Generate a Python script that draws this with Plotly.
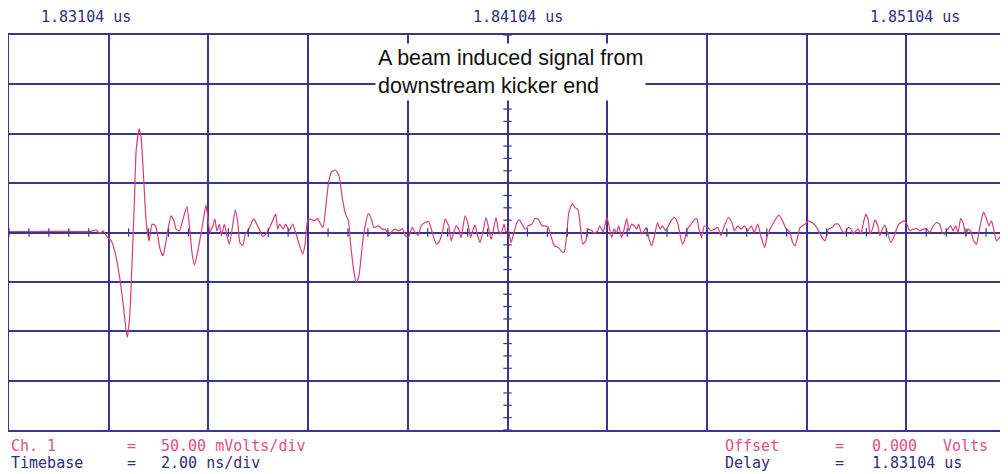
import numpy as np
import plotly.graph_objects as go

# ---- data (time in ns after delay, voltage in mV) ----
time_ns = [0.0, 0.5, 1.0, 1.3, 1.62, 1.75, 1.82, 1.89, 1.95, 2.05, 2.12, 2.22, 2.29, 2.37, 2.42, 2.47, 2.52, 2.55,
           2.61, 2.65, 2.70, 2.75, 2.81, 2.87, 2.94, 2.99, 3.03, 3.09, 3.14, 3.19, 3.25, 3.31, 3.35, 3.42, 3.49,
           3.57, 3.62, 3.67, 3.72, 3.77, 3.82, 3.89, 3.95, 3.99, 4.03, 4.09, 4.13, 4.17, 4.22, 4.26, 4.32, 4.37,
           4.42, 4.47, 4.54, 4.59, 4.63, 4.69, 4.74, 4.79, 4.84, 4.91, 4.97, 5.02, 5.09, 5.15, 5.23, 5.30, 5.35,
           5.39, 5.43, 5.50, 5.55, 5.62, 5.69, 5.75, 5.82, 5.89, 5.94, 5.99, 6.05, 6.12, 6.19, 6.25, 6.30, 6.35,
           6.41, 6.47, 6.55, 6.62, 6.69, 6.75, 6.81, 6.85, 6.92, 6.97, 7.02, 7.09, 7.12, 7.21, 7.27, 7.32, 7.41,
           7.49, 7.55, 7.62, 7.69, 7.75, 7.82, 7.89, 7.95, 8.01, 8.09, 8.15, 8.21, 8.27, 8.35, 8.42, 8.49, 8.57,
           8.63, 8.70, 8.75, 8.82, 8.87, 8.92, 8.97, 9.02, 9.07, 9.11, 9.15, 9.21, 9.26, 9.31, 9.35, 9.40, 9.45,
           9.51, 9.57, 9.62, 9.67, 9.72, 9.77, 9.82, 9.87, 9.93, 9.97, 10.02, 10.07, 10.13, 10.19, 10.24, 10.29,
           10.35, 10.42, 10.49, 10.55, 10.62, 10.69, 10.75, 10.82, 10.87, 10.94, 11.02, 11.09, 11.14, 11.19,
           11.23, 11.30, 11.35, 11.41, 11.45, 11.51, 11.57, 11.62, 11.69, 11.74, 11.81, 11.85, 11.92, 11.99,
           12.03, 12.09, 12.14, 12.19, 12.23, 12.29, 12.34, 12.39, 12.44, 12.49, 12.54, 12.59, 12.63, 12.69,
           12.74, 12.79, 12.84, 12.89, 12.94, 13.01, 13.06, 13.11, 13.17, 13.23, 13.28, 13.35, 13.41, 13.46,
           13.51, 13.55, 13.60, 13.66, 13.73, 13.80, 13.84, 13.89, 13.95, 14.02, 14.08, 14.15, 14.22, 14.28,
           14.35, 14.43, 14.50, 14.55, 14.62, 14.69, 14.75, 14.82, 14.89, 14.95, 15.02, 15.09, 15.16, 15.21,
           15.27, 15.34, 15.44, 15.52, 15.59, 15.65, 15.72, 15.77, 15.81, 15.87, 15.97, 16.04, 16.11, 16.17,
           16.24, 16.31, 16.37, 16.44, 16.51, 16.57, 16.64, 16.71, 16.77, 16.84, 16.89, 16.94, 16.99, 17.04,
           17.09, 17.14, 17.19, 17.24, 17.27, 17.32, 17.37, 17.43, 17.47, 17.52, 17.57, 17.63, 17.69, 17.76,
           17.83, 17.89, 17.96, 18.01, 18.07, 18.14, 18.21, 18.27, 18.34, 18.41, 18.47, 18.54, 18.61, 18.67,
           18.72, 18.77, 18.83, 18.89, 18.94, 18.99, 19.04, 19.09, 19.14, 19.19, 19.24, 19.29, 19.35, 19.41,
           19.45, 19.51, 19.55, 19.61, 19.66, 19.71, 19.76, 19.81, 19.87, 19.94, 20.0]

volt_mV = [1.0, 1.0, 1.2, 1.0, 1.0, 2.4, -1.0, 1.7, -3.3, -8.4, -18.5, -45.5, -72.3, -106.1, -85.9, -28.6, 38.8, 82.5,
           104.6, 96.1, 55.7, 11.8, -8.4, 8.5, 6.8, -5.1, -16.8, -23.5, -11.7, 3.4, 16.9, 11.8, 3.4, 1.7, 13.5,
           26.3, 6.8, -20.2, -32.9, -23.5, -10.1, 10.1, 27.7, 15.2, 0.0, 6.8, 13.5, 1.7, 8.5, -3.3, 8.5, -3.3,
           -11.7, 1.7, 22.9, 10.1, -10.1, -13.4, -1.6, 1.7, 6.8, 14.1, 8.5, 3.4, -4.0, -1.6, 5.1, 13.5, 18.6,
           3.4, 8.5, 3.4, 8.5, 1.7, 8.5, 0.0, -11.7, -21.8, -11.7, 11.8, 13.5, 11.8, 14.1, 8.5, 5.1, 23.6,
           50.5, 61.3, 63.3, 57.3, 33.7, 18.6, 11.8, -10.1, -40.4, -50.5, -43.7, -11.7, 0.0, 19.2, 13.5, 5.1, 6.8,
           3.4, 3.4, -4.0, 1.7, 3.4, 1.7, 4.0, -3.3, -5.1, 5.1, 0.0, -3.3, 6.8, 10.1, 10.8, 0.0, -11.7,
           -9.4, 1.7, 13.5, 6.8, -8.4, 0.0, 6.8, 3.4, -5.1, 6.8, 16.9, 8.5, -5.1, 3.4, 7.5, -3.3, -10.1,
           1.7, 15.2, 5.1, -6.7, 3.4, 15.2, 1.7, -1.6, 8.5, 0.0, 1.7, -10.1, 0.0, 10.1, 12.8, 8.5,
           3.4, 6.8, 8.5, 14.1, 13.5, 6.8, 6.8, 5.1, -3.3, -13.4, -15.2, -19.5, -19.5, 0.0,
           20.2, 29.3, 25.3, 23.6, 11.8, -11.7, -8.4, 3.4, 1.7, -0.6, 1.7, 6.8, 0.7, 15.2,
           8.5, -5.1, 3.4, 0.0, 6.8, -5.1, 3.4, 14.1, 1.7, 8.5, 6.8, 3.4, 8.5, -1.6,
           1.7, 5.1, -6.7, -13.4, -5.1, 10.1, 3.4, 6.8, 1.7, 6.8, 11.8, 15.2, 10.1, -1.6,
           -11.7, -8.4, 3.4, 6.8, 11.8, 14.1, 3.4, -5.1, 6.8, 5.1, 1.7, 3.4, 5.1, -3.3,
           6.8, 15.2, 10.1, 1.7, 6.8, 3.4, 6.8, 1.7, 6.8, 0.0, 8.5, -5.1, -15.2, -3.3,
           3.4, 10.1, 17.6, 11.8, 3.4, 1.7, -10.1, -13.4, -6.7, 5.1, 8.5, 11.8, 10.1, 7.5,
           1.7, -5.1, -8.4, 3.4, 5.1, 8.5, 8.5, 1.7, 0.0, 5.1, 3.4, -1.6, 1.7, 3.4,
           -1.6, 10.1, 18.6, 11.8, -1.6, 3.4, 12.8, 6.8, -3.3, 3.4, 7.5, -1.6, -10.1, -3.3,
           6.8, 10.1, 11.8, 8.5, 1.7, 3.4, 4.0, 1.7, 3.4, 3.4, 0.0, 6.8, 10.1, 8.5,
           0.0, -1.6, 3.4, 6.8, 1.7, 6.8, 0.0, 14.1, 10.1, -3.3, 3.4, 1.7, -8.4, -11.7,
           -1.6, 13.5, 20.9, 13.5, 6.8, 11.8, 1.7, -8.4, -5.1, 1.7, 1.7]

delay_us = 1.83104
ns_per_div = 2.0
mv_per_div = 50.0
n_xdiv = 10
n_ydiv = 8

# ---- styles ----
GRID = "#3a3690"
TRACE = "#d83c80"
PINK = "#e2507e"
NAVY = "#2e2e80"
MONO = "DejaVu Sans Mono"
FS = 15

# the page body has an 8px margin, so the figure is drawn 8px in from the window corner
OFF = 8
W, H = 1008 - OFF, 474 - OFF
L, R, T, B = 9 - OFF, 0, 35 - OFF, 474 - 430
PW = W - L - R
PH = H - T - B


def px(x):  # window pixel -> paper fraction
    return (x - OFF - L) / PW


def py(y):
    return (H - B - (y - OFF)) / PH


fig = go.Figure()

fig.add_trace(go.Scatter(x=time_ns, y=volt_mV, mode="lines",
                         line=dict(color=TRACE, width=1.2, shape="spline", smoothing=0.5),
                         hoverinfo="skip", showlegend=False))

# minor ticks on centre cross
xt = np.arange(0, n_xdiv * ns_per_div + 1e-9, ns_per_div / 5)
fig.add_trace(go.Scatter(x=xt, y=np.zeros_like(xt), mode="markers",
                         marker=dict(symbol="line-ns", size=6, line=dict(color=GRID, width=1.2)),
                         hoverinfo="skip", showlegend=False))
yt = np.arange(-n_ydiv / 2 * mv_per_div, n_ydiv / 2 * mv_per_div + 1e-9, mv_per_div / 4)
fig.add_trace(go.Scatter(x=np.full_like(yt, n_xdiv * ns_per_div / 2), y=yt, mode="markers",
                         marker=dict(symbol="line-ew", size=6, line=dict(color=GRID, width=1.2)),
                         hoverinfo="skip", showlegend=False))

fig.update_xaxes(range=[0, n_xdiv * ns_per_div], dtick=ns_per_div, tick0=0, showgrid=True,
                 gridcolor=GRID, gridwidth=1.6, showticklabels=False, ticks="", zeroline=False,
                 showline=True, linecolor=GRID, linewidth=2, mirror=True, fixedrange=True)
fig.update_yaxes(range=[-n_ydiv / 2 * mv_per_div, n_ydiv / 2 * mv_per_div], dtick=mv_per_div, tick0=0,
                 showgrid=True, gridcolor=GRID, gridwidth=1.6, showticklabels=False, ticks="",
                 zeroline=False, showline=True, linecolor=GRID, linewidth=2, mirror=True, fixedrange=True)

ann = []


def txt(x, y, s, col, anchor="left", size=FS):
    ann.append(dict(x=px(x), y=py(y), xref="paper", yref="paper", text=s, xanchor=anchor,
                    yanchor="middle", showarrow=False, borderpad=0,
                    font=dict(family=MONO, size=size, color=col)))


# top time labels
tlabels = [f"{delay_us + k * n_xdiv / 2 * ns_per_div / 1000:.5f} us" for k in range(3)]
for lab, xc in zip(tlabels, [86, 519, 917]):
    txt(xc, 17, lab, NAVY, anchor="center")

# note box
ann.append(dict(x=px(376), y=py(43), xref="paper", yref="paper",
                text="A beam induced signal from<br>downstream kicker end",
                xanchor="left", yanchor="top", align="left", showarrow=False, bgcolor="white",
                borderpad=2, font=dict(family="Liberation Sans", size=21.5, color="#111111")))

# bottom status text
y1, y2 = 446, 463
txt(10, y1, "Ch. 1", PINK)
txt(126, y1, "=", PINK)
txt(160, y1, f"{mv_per_div:.2f} mVolts/div", PINK)
txt(10, y2, "Timebase", NAVY)
txt(126, y2, "=", NAVY)
txt(160, y2, f"{ns_per_div:.2f} ns/div", NAVY)
txt(725, y1, "Offset", PINK)
txt(836, y1, "=", PINK)
txt(873, y1, "0.000", PINK)
txt(944, y1, "Volts", PINK)
txt(725, y2, "Delay", NAVY)
txt(836, y2, "=", NAVY)
txt(873, y2, f"{delay_us:.5f} us", NAVY)

fig.update_layout(width=W, height=H, margin=dict(l=L, r=R, t=T, b=B),
                  paper_bgcolor="white", plot_bgcolor="white", annotations=ann, showlegend=False)

fig.write_html("out.html")
